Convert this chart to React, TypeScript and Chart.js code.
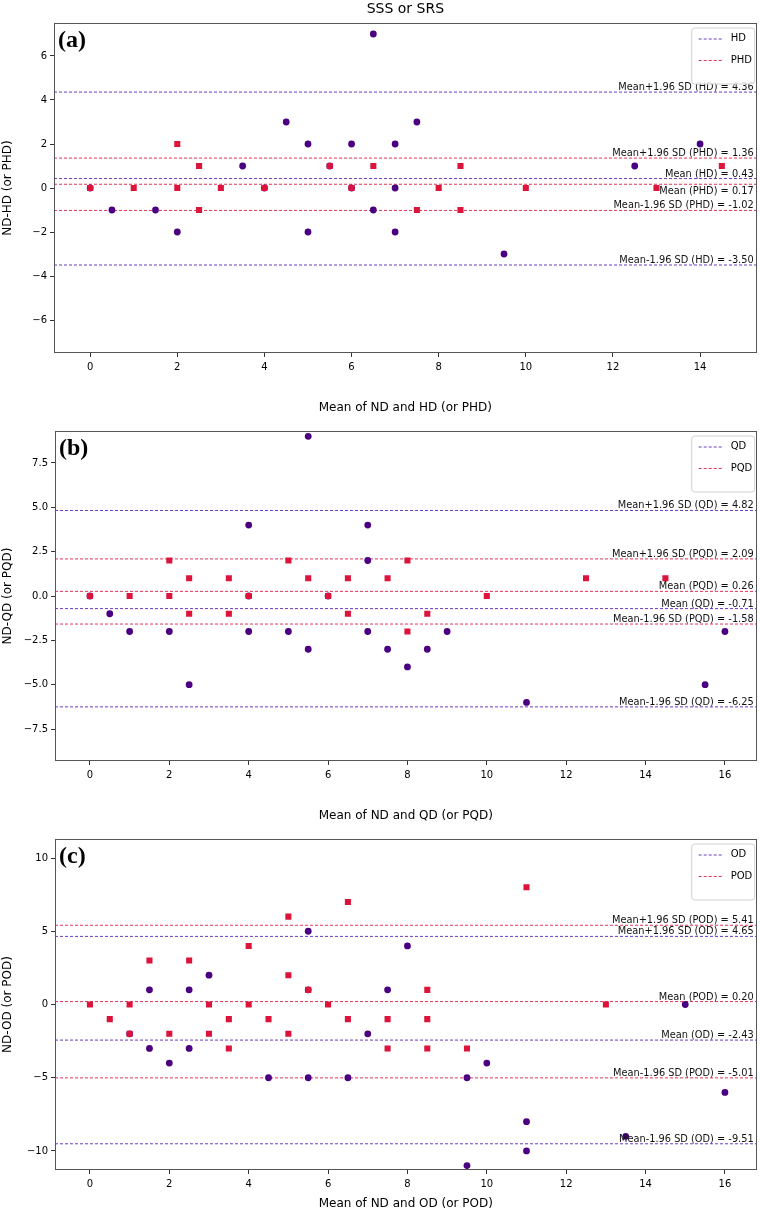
import React, { useEffect, useRef } from 'react';
import { Chart, registerables } from 'chart.js';

Chart.register(...registerables);

const SANS = '"DejaVu Sans", "Liberation Sans", sans-serif';
const SERIF = '"Liberation Serif", "DejaVu Serif", serif';
const INDIGO = '#4b0082';
const CRIMSON = '#dc143c';
const INDIGO_LINE = 'rgba(100, 48, 190, 0.95)';
const CRIMSON_LINE = 'rgba(228, 40, 82, 0.95)';

// ---------------- data ----------------
const figureTitle = 'SSS or SRS';
const limitNames = ['Mean+1.96 SD', 'Mean', 'Mean-1.96 SD'];

// (a) HD / PHD
const hdX = [0, 0.5, 1.5, 2, 3.5, 4, 4.5, 5, 5, 5.5, 6, 6, 6.5, 6.5, 7, 7, 7, 7.5, 9.5, 12.5, 14];
const hdY = [0, -1, -1, -2, 1, 0, 3, 2, -2, 1, 2, 0, 7, -1, 2, 0, -2, 3, -3, 1, 2];
const phdX = [0, 1, 2, 2, 2.5, 2.5, 3, 4, 5.5, 6, 6.5, 7.5, 8, 8.5, 8.5, 10, 13, 14.5];
const phdY = [0, 0, 2, 0, 1, -1, 0, 0, 1, 0, 1, -1, 0, 1, -1, 0, 0, 1];
const hdLimits = [4.36, 0.43, -3.5];
const phdLimits = [1.36, 0.17, -1.02];

// (b) QD / PQD
const qdX = [0, 0.5, 1, 2, 2.5, 4, 4, 4, 5, 5.5, 5.5, 6, 7, 7, 7, 7.5, 8, 8.5, 9, 11, 15.5, 16];
const qdY = [0, -1, -2, -2, -5, 4, 0, -2, -2, 9, -3, 0, 4, 2, -2, -3, -4, -3, -2, -6, -5, -2];
const pqdX = [0, 1, 2, 2, 2.5, 2.5, 3.5, 3.5, 4, 5, 5.5, 6, 6.5, 6.5, 7.5, 8, 8, 8.5, 10, 12.5, 14.5];
const pqdY = [0, 0, 2, 0, 1, -1, 1, -1, 0, 2, 1, 0, 1, -1, 1, 2, -2, -1, 0, 1, 1];
const qdLimits = [4.82, -0.71, -6.25];
const pqdLimits = [2.09, 0.26, -1.58];

// (c) OD / POD
const odX = [1, 1.5, 1.5, 2, 2.5, 2.5, 3, 4.5, 5.5, 5.5, 5.5, 6.5, 7, 7.5, 8, 9.5, 9.5, 10, 11, 11, 13.5, 15, 16];
const odY = [-2, 1, -3, -4, 1, -3, 2, -5, 5, 1, -5, -5, -2, 1, 4, -5, -11, -4, -8, -10, -9, 0, -6];
const podX = [0, 0.5, 1, 1, 1.5, 2, 2.5, 3, 3, 3.5, 3.5, 4, 4, 4.5, 5, 5, 5, 5.5, 6, 6.5, 6.5, 7.5, 7.5, 8.5, 8.5, 8.5, 9.5, 11, 13];
const podY = [0, -1, 0, -2, 3, -2, 3, 0, -2, -1, -3, 4, 0, -1, 6, 2, -2, 1, 0, 7, -1, -1, -3, 1, -1, -3, -3, 8, 0];
const odLimits = [4.65, -2.43, -9.51];
const podLimits = [5.41, 0.2, -5.01];

// ---------------- panels ----------------
type Panel = {
  letter: string;
  aName: string; aX: number[]; aY: number[]; aLimits: number[]; aBelow: boolean[];
  bName: string; bX: number[]; bY: number[]; bLimits: number[]; bBelow: boolean[];
  xTitle: string; yTitle: string;
  xMin: number; xMax: number; yMin: number; yMax: number; yStep: number; yDec: number;
  top: number; height: number; showTitle: boolean; padTop: number;
  xAxisH: number; yAxisW: number; xTitlePad: number;
};

const panels: Panel[] = [
  {
    letter: 'a', aName: 'HD', aX: hdX, aY: hdY, aLimits: hdLimits, aBelow: [false, false, false],
    bName: 'PHD', bX: phdX, bY: phdY, bLimits: phdLimits, bBelow: [false, true, false],
    xTitle: 'Mean of ND and HD (or PHD)', yTitle: 'ND-HD (or PHD)',
    xMin: -0.83, xMax: 15.3, yMin: -7.5, yMax: 7.5, yStep: 2, yDec: 0,
    top: 0, height: 420, showTitle: true, padTop: 0, xAxisH: 67, yAxisW: 54, xTitlePad: 5,
  },
  {
    letter: 'b', aName: 'QD', aX: qdX, aY: qdY, aLimits: qdLimits, aBelow: [false, false, false],
    bName: 'PQD', bX: pqdX, bY: pqdY, bLimits: pqdLimits, bBelow: [false, false, false],
    xTitle: 'Mean of ND and QD (or PQD)', yTitle: 'ND-QD (or PQD)',
    xMin: -0.88, xMax: 16.8, yMin: -9.3, yMax: 9.3, yStep: 2.5, yDec: 1,
    top: 420, height: 408, showTitle: false, padTop: 11, xAxisH: 67, yAxisW: 55, xTitlePad: 5,
  },
  {
    letter: 'c', aName: 'OD', aX: odX, aY: odY, aLimits: odLimits, aBelow: [false, false, false],
    bName: 'POD', bX: podX, bY: podY, bLimits: podLimits, bBelow: [false, false, false],
    xTitle: 'Mean of ND and OD (or POD)', yTitle: 'ND-OD (or POD)',
    xMin: -0.88, xMax: 16.8, yMin: -11.3, yMax: 11.3, yStep: 5, yDec: 0,
    top: 828, height: 384, showTitle: false, padTop: 11, xAxisH: 42, yAxisW: 55, xTitlePad: 0.5,
  },
];

const fmt = (v: number, dec: number) => {
  const s = Math.abs(v).toFixed(dec);
  return v < -1e-9 ? '\u2212' + s : s;
};

const zip = (xs: number[], ys: number[]) => xs.map((x, i) => ({ x, y: ys[i] }));

function makePlugin(p: Panel) {
  return {
    id: 'decor' + p.letter,
    afterDraw(chart: any) {
      const { ctx, chartArea: a, scales } = chart;
      const ys = scales.y;
      ctx.save();
      // frame
      ctx.setLineDash([]);
      ctx.strokeStyle = '#555';
      ctx.lineWidth = 1;
      ctx.strokeRect(Math.round(a.left) + 0.5, Math.round(a.top) + 0.5, Math.round(a.right - a.left) - 1, Math.round(a.bottom - a.top) - 1);
      // limit labels
      ctx.font = `9.8px ${SANS}`;
      ctx.fillStyle = '#111';
      ctx.textAlign = 'right';
      const drawLabels = (vals: number[], name: string, below: boolean[]) => {
        vals.forEach((v, i) => {
          const py = ys.getPixelForValue(v);
          const txt = `${limitNames[i]} (${name}) = ${v.toFixed(2)}`;
          if (below[i]) {
            ctx.textBaseline = 'top';
            ctx.fillText(txt, a.right - 3, py + 2);
          } else {
            ctx.textBaseline = 'alphabetic';
            ctx.fillText(txt, a.right - 3, py - 2);
          }
        });
      };
      drawLabels(p.aLimits, p.aName, p.aBelow);
      drawLabels(p.bLimits, p.bName, p.bBelow);
      // legend
      const lw = 63, lh = 56;
      const lx = a.right - lw - 2, ly = a.top + 5, r = 3;
      ctx.beginPath();
      ctx.moveTo(lx + r, ly);
      ctx.lineTo(lx + lw - r, ly);
      ctx.arcTo(lx + lw, ly, lx + lw, ly + r, r);
      ctx.lineTo(lx + lw, ly + lh - r);
      ctx.arcTo(lx + lw, ly + lh, lx + lw - r, ly + lh, r);
      ctx.lineTo(lx + r, ly + lh);
      ctx.arcTo(lx, ly + lh, lx, ly + lh - r, r);
      ctx.lineTo(lx, ly + r);
      ctx.arcTo(lx, ly, lx + r, ly, r);
      ctx.closePath();
      ctx.fillStyle = 'rgba(255,255,255,0.85)';
      ctx.fill();
      ctx.strokeStyle = '#d0d0d0';
      ctx.stroke();
      const entries: [string, string][] = [[p.aName, INDIGO_LINE], [p.bName, CRIMSON_LINE]];
      entries.forEach(([name, col], i) => {
        const cy = ly + 10.5 + i * 21.5;
        ctx.setLineDash([3, 2]);
        ctx.strokeStyle = col;
        ctx.beginPath();
        ctx.moveTo(lx + 7, cy + 0.5);
        ctx.lineTo(lx + 31, cy + 0.5);
        ctx.stroke();
        ctx.setLineDash([]);
        ctx.font = `10px ${SANS}`;
        ctx.fillStyle = '#000';
        ctx.textAlign = 'left';
        ctx.textBaseline = 'middle';
        ctx.fillText(name, lx + 39, cy);
      });
      // panel letter
      ctx.font = `bold 24px ${SERIF}`;
      ctx.fillStyle = '#000';
      ctx.textAlign = 'left';
      ctx.textBaseline = 'middle';
      ctx.fillText(`(${p.letter})`, a.left + 4, a.top + 18);
      ctx.restore();
    },
  };
}

function buildConfig(p: Panel): any {
  const limitSet = (vals: number[], color: string) =>
    vals.map((v) => ({
      data: [{ x: p.xMin, y: v }, { x: p.xMax, y: v }],
      showLine: true,
      borderColor: color,
      borderWidth: 1,
      borderDash: [3, 2],
      pointRadius: 0,
      order: 3,
      label: '',
    }));
  return {
    type: 'scatter',
    data: {
      datasets: [
        { label: p.bName, data: zip(p.bX, p.bY), pointStyle: 'rect', pointRadius: 4.3, backgroundColor: CRIMSON, borderWidth: 0, order: 1 },
        { label: p.aName, data: zip(p.aX, p.aY), pointStyle: 'circle', pointRadius: 3.4, backgroundColor: INDIGO, borderWidth: 0, order: 2 },
        ...limitSet(p.aLimits, INDIGO_LINE),
        ...limitSet(p.bLimits, CRIMSON_LINE),
      ],
    },
    options: {
      animation: false,
      responsive: false,
      devicePixelRatio: 1,
      layout: { padding: { top: p.padTop, right: 3, left: 0, bottom: 0 } },
      plugins: {
        legend: { display: false },
        tooltip: { enabled: false },
        title: {
          display: p.showTitle,
          text: figureTitle,
          fullSize: false,
          color: '#000',
          font: { family: SANS, size: 14, weight: 'normal', lineHeight: 1.2 },
          padding: { top: 1, bottom: 5.2 },
        },
      },
      scales: {
        x: {
          type: 'linear',
          min: p.xMin,
          max: p.xMax,
          afterFit: (s: any) => { s.height = p.xAxisH; },
          border: { display: false },
          grid: { display: true, drawOnChartArea: false, drawTicks: true, tickLength: 4, color: '#333' },
          ticks: {
            stepSize: 2,
            includeBounds: false,
            padding: 4,
            maxRotation: 0,
            autoSkip: false,
            color: '#000',
            font: { family: SANS, size: 10 },
            callback: (v: number) => fmt(v, 0),
          },
          title: {
            display: true,
            text: p.xTitle,
            color: '#000',
            font: { family: SANS, size: 12, lineHeight: 1.2 },
            padding: { top: 0, bottom: p.xTitlePad },
          },
        },
        y: {
          type: 'linear',
          min: p.yMin,
          max: p.yMax,
          afterFit: (s: any) => { s.width = p.yAxisW; },
          border: { display: false },
          grid: { display: true, drawOnChartArea: false, drawTicks: true, tickLength: 4, color: '#333' },
          ticks: {
            stepSize: p.yStep,
            includeBounds: false,
            padding: 3,
            autoSkip: false,
            color: '#000',
            font: { family: SANS, size: 10 },
            callback: (v: number) => fmt(v, p.yDec),
          },
          title: {
            display: true,
            text: p.yTitle,
            color: '#000',
            font: { family: SANS, size: 12, lineHeight: 1.2 },
            padding: { top: 1, bottom: 0 },
          },
        },
      },
    },
    plugins: [makePlugin(p)],
  };
}

function PanelChart({ p }: { p: Panel }) {
  const ref = useRef<HTMLCanvasElement>(null);
  useEffect(() => {
    const chart = new Chart(ref.current as HTMLCanvasElement, buildConfig(p));
    return () => chart.destroy();
  }, [p]);
  return (
    <canvas
      ref={ref}
      width={761}
      height={p.height}
      style={{ position: 'absolute', left: 0, top: p.top, width: 761, height: p.height }}
    />
  );
}

export default function App() {
  return (
    <div style={{ position: 'absolute', left: 0, top: 0, width: 761, height: 1212, background: '#fff' }}>
      {panels.map((p) => (
        <PanelChart key={p.letter} p={p} />
      ))}
    </div>
  );
}
